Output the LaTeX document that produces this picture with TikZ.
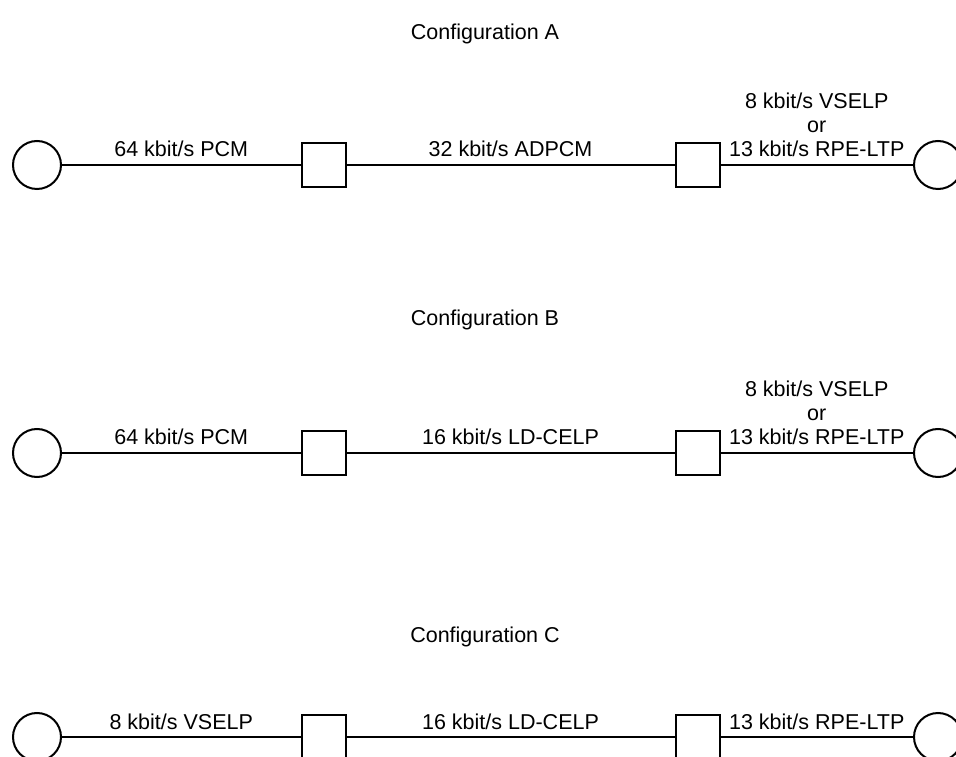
\documentclass[tikz,border=0pt]{standalone}
\usepackage{fontspec}
\setmainfont{Liberation Sans}
\begin{document}
\begin{tikzpicture}[x=1pt,y=1pt,
  every node/.style={font=\fontsize{21.5}{24}\selectfont},
  term/.style={circle, draw, line width=2pt, minimum size=48pt, inner sep=0pt},
  relay/.style={rectangle, draw, line width=2pt, minimum size=44pt, inner sep=0pt, fill=white},
  link/.style={line width=2pt},
  rate/.style={anchor=base, inner sep=0pt, yshift=8pt},
  heading/.style={anchor=base, inner sep=0pt}]
\useasboundingbox (0,0) rectangle (956,756);

% Configuration A
\node[heading] (ta) at (485,716) {Configuration A};
\node[term]  (a1) at (37,591) {};
\node[relay] (a2) at (323.5,591) {};
\node[relay] (a3) at (697.5,591) {};
\node[term]  (a4) at (938,591) {};
\draw[link] (a1) -- node[rate] {64 kbit/s PCM} (a2);
\draw[link] (a2) -- node[rate] {32 kbit/s ADPCM} (a3);
\draw[link] (a3) -- node[rate] {\begin{tabular}[b]{@{}c@{}}8 kbit/s VSELP\\or\\13 kbit/s RPE-LTP\end{tabular}} (a4);

% Configuration B
\node[heading] (tb) at (485,430) {Configuration B};
\node[term]  (b1) at (37,303) {};
\node[relay] (b2) at (323.5,303) {};
\node[relay] (b3) at (697.5,303) {};
\node[term]  (b4) at (938,303) {};
\draw[link] (b1) -- node[rate] {64 kbit/s PCM} (b2);
\draw[link] (b2) -- node[rate] {16 kbit/s LD-CELP} (b3);
\draw[link] (b3) -- node[rate] {\begin{tabular}[b]{@{}c@{}}8 kbit/s VSELP\\or\\13 kbit/s RPE-LTP\end{tabular}} (b4);

% Configuration C
\node[heading] (tc) at (485,114) {Configuration C};
\node[term]  (c1) at (37,19) {};
\node[relay] (c2) at (323.5,19) {};
\node[relay] (c3) at (697.5,19) {};
\node[term]  (c4) at (938,19) {};
\draw[link] (c1) -- node[rate] {8 kbit/s VSELP} (c2);
\draw[link] (c2) -- node[rate] {16 kbit/s LD-CELP} (c3);
\draw[link] (c3) -- node[rate] {13 kbit/s RPE-LTP} (c4);
\end{tikzpicture}
\end{document}
